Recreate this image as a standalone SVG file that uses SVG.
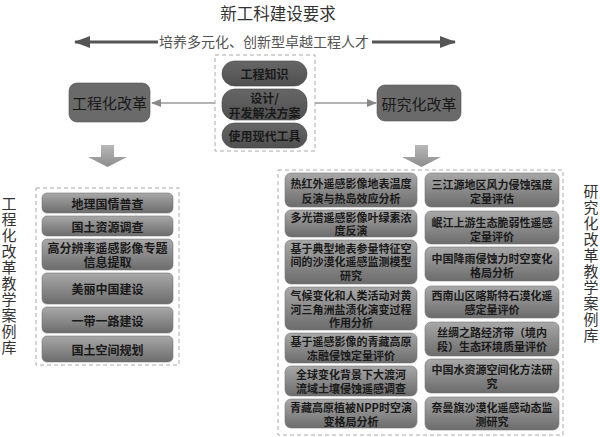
<svg xmlns="http://www.w3.org/2000/svg" width="600" height="437" viewBox="0 0 600 437">
<defs>
<linearGradient id="gItem" x1="0" y1="0" x2="0" y2="1">
<stop offset="0" stop-color="#a8a8a8"/>
<stop offset="0.5" stop-color="#8a8a8a"/>
<stop offset="1" stop-color="#6c6c6c"/>
</linearGradient>
<linearGradient id="gPill" x1="0" y1="0" x2="0" y2="1">
<stop offset="0" stop-color="#666"/>
<stop offset="1" stop-color="#505050"/>
</linearGradient>
<linearGradient id="gDown" x1="0" y1="0" x2="0" y2="1">
<stop offset="0" stop-color="#b8b8b8"/>
<stop offset="1" stop-color="#8c8c8c"/>
</linearGradient>
<marker id="mBig2" markerWidth="16" markerHeight="12" refX="15" refY="6" orient="auto" markerUnits="userSpaceOnUse">
<path d="M0,0 L16,6 L0,12 Z" fill="#555"/>
</marker>
<marker id="mSmall" markerWidth="10" markerHeight="8" refX="9" refY="4" orient="auto" markerUnits="userSpaceOnUse">
<path d="M0,0 L10,4 L0,8 Z" fill="#888"/>
</marker>
</defs>
<style>
text { font-family: "Noto Sans CJK SC", "Liberation Serif", sans-serif; }
.title { font-size: 16.5px; fill: #333; }
.sub { font-size: 14px; fill: #555; }
.vert { font-size: 15px; fill: #333; writing-mode: vertical-rl; letter-spacing: 1px; }
.dash { fill: none; stroke: #aaa; stroke-width: 1; stroke-dasharray: 4 3; }
.item { fill: url(#gItem); stroke: #777; stroke-width: 0.6; }
.pill { fill: url(#gPill); stroke: #444; stroke-width: 0.6; }
.main { fill: #6a6a6a; stroke: #555; stroke-width: 0.6; }
.t { fill: #1a1a1a; font-weight: bold; text-anchor: middle; dominant-baseline: central; }
.tl { font-size: 12px; }
.tr { font-size: 11px; }
.tp { font-size: 12px; }
.tm { font-size: 15px; font-weight: normal; }
.down { fill: url(#gDown); }
</style>

<g id="title">
<text class="title" x="278" y="20" text-anchor="middle">新工科建设要求</text>
</g>

<g id="connectors">
<line x1="158" y1="42" x2="75" y2="42" stroke="#555" stroke-width="3" marker-end="url(#mBig2)"/>
<line x1="372" y1="42" x2="455" y2="42" stroke="#555" stroke-width="3" marker-end="url(#mBig2)"/>
<line x1="215" y1="103" x2="152" y2="103" stroke="#999" stroke-width="1.5" marker-end="url(#mSmall)"/>
<line x1="315" y1="103" x2="376" y2="103" stroke="#999" stroke-width="1.5" marker-end="url(#mSmall)"/>
<path class="down" d="M101,145 H114 V157 H127 L107.5,167 L88,157 H101 Z"/>
<path class="down" d="M415,145 H428 V157 H441 L421.5,167 L402,157 H415 Z"/>
</g>

<g id="goal">
<text class="sub" x="264" y="47" text-anchor="middle">培养多元化、创新型卓越工程人才</text>
</g>

<g id="core">
<rect class="dash" x="215" y="55" width="100" height="96"/>
<rect class="pill" x="222" y="61" width="85" height="25" rx="12.5"/>
<text class="t tp" x="264.5" y="73.5">工程知识</text>
<rect class="pill" x="222" y="89" width="85" height="31" rx="13"/>
<text class="t tp"><tspan x="264.5" y="97">设计/</tspan><tspan x="264.5" y="112">开发解决方案</tspan></text>
<rect class="pill" x="222" y="123" width="85" height="25" rx="12.5"/>
<text class="t tp" x="264.5" y="135.5">使用现代工具</text>
</g>

<g id="eng-reform">
<rect class="main" x="69" y="83" width="81" height="39" rx="8"/>
<text class="t tm" x="109.5" y="102.5">工程化改革</text>
</g>

<g id="res-reform">
<rect class="main" x="377" y="85" width="84" height="36" rx="8"/>
<text class="t tm" x="419" y="103">研究化改革</text>
</g>

<g id="eng-cases">
<rect class="dash" x="36" y="188" width="143" height="177"/>
<rect class="item" x="42" y="193" width="131" height="20" rx="5"/>
<text class="t tl" x="107.5" y="203">地理国情普查</text>
<rect class="item" x="42" y="216" width="131" height="20" rx="5"/>
<text class="t tl" x="107.5" y="226">国土资源调查</text>
<rect class="item" x="42" y="239" width="131" height="31" rx="5"/>
<text class="t tl"><tspan x="107.5" y="247">高分辨率遥感影像专题</tspan><tspan x="107.5" y="261">信息提取</tspan></text>
<rect class="item" x="42" y="273" width="131" height="31" rx="5"/>
<text class="t tl" x="107.5" y="288.5">美丽中国建设</text>
<rect class="item" x="42" y="307" width="131" height="26" rx="5"/>
<text class="t tl" x="107.5" y="320">一带一路建设</text>
<rect class="item" x="42" y="336" width="131" height="26" rx="5"/>
<text class="t tl" x="107.5" y="349">国土空间规划</text>
</g>

<g id="eng-label">
<text class="vert" x="9" y="196" text-anchor="start">工程化改革教学案例库</text>
</g>

<g id="res-cases">
<rect class="dash" x="278" y="170" width="285" height="265"/>
<rect class="item" x="285" y="173" width="132" height="34" rx="6"/>
<text class="t tr"><tspan x="351" y="183">热红外遥感影像地表温度</tspan><tspan x="351" y="198">反演与热岛效应分析</tspan></text>
<rect class="item" x="285" y="210" width="132" height="27" rx="6"/>
<text class="t tr"><tspan x="351" y="217">多光谱遥感影像叶绿素浓</tspan><tspan x="351" y="230">度反演</tspan></text>
<rect class="item" x="285" y="240" width="132" height="44" rx="6"/>
<text class="t tr"><tspan x="351" y="247.5">基于典型地表参量特征空</tspan><tspan x="351" y="261">间的沙漠化遥感监测模型</tspan><tspan x="351" y="274.5">研究</tspan></text>
<rect class="item" x="285" y="287" width="132" height="43" rx="6"/>
<text class="t tr"><tspan x="351" y="294.5">气候变化和人类活动对黄</tspan><tspan x="351" y="308.5">河三角洲盐渍化演变过程</tspan><tspan x="351" y="322">作用分析</tspan></text>
<rect class="item" x="285" y="333" width="132" height="30" rx="6"/>
<text class="t tr"><tspan x="351" y="341">基于遥感影像的青藏高原</tspan><tspan x="351" y="355">冻融侵蚀定量评价</tspan></text>
<rect class="item" x="285" y="366" width="132" height="30" rx="6"/>
<text class="t tr"><tspan x="351" y="373.5">全球变化背景下大渡河</tspan><tspan x="351" y="388">流域土壤侵蚀遥感调查</tspan></text>
<rect class="item" x="285" y="399" width="132" height="29" rx="6"/>
<text class="t tr"><tspan x="351" y="406.5">青藏高原植被NPP时空演</tspan><tspan x="351" y="420.5">变格局分析</tspan></text>

<rect class="item" x="425" y="173" width="134" height="34" rx="6"/>
<text class="t tr"><tspan x="492" y="184">三江源地区风力侵蚀强度</tspan><tspan x="492" y="198">定量评估</tspan></text>
<rect class="item" x="425" y="211" width="134" height="33" rx="6"/>
<text class="t tr"><tspan x="492" y="222">岷江上游生态脆弱性遥感</tspan><tspan x="492" y="236">定量评价</tspan></text>
<rect class="item" x="425" y="247" width="134" height="34" rx="6"/>
<text class="t tr"><tspan x="492" y="257.5">中国降雨侵蚀力时空变化</tspan><tspan x="492" y="271.5">格局分析</tspan></text>
<rect class="item" x="425" y="286" width="134" height="32" rx="6"/>
<text class="t tr"><tspan x="492" y="294.5">西南山区喀斯特石漠化遥</tspan><tspan x="492" y="308.5">感定量评价</tspan></text>
<rect class="item" x="425" y="322" width="134" height="34" rx="6"/>
<text class="t tr"><tspan x="492" y="332">丝绸之路经济带（境内</tspan><tspan x="492" y="346">段）生态环境质量评价</tspan></text>
<rect class="item" x="425" y="359" width="134" height="34" rx="6"/>
<text class="t tr"><tspan x="492" y="369">中国水资源空间化方法研</tspan><tspan x="492" y="383">究</tspan></text>
<rect class="item" x="425" y="397" width="134" height="33" rx="6"/>
<text class="t tr"><tspan x="492" y="406.5">奈曼旗沙漠化遥感动态监</tspan><tspan x="492" y="420.5">测研究</tspan></text>
</g>

<g id="res-label">
<text class="vert" x="591" y="184" text-anchor="start">研究化改革教学案例库</text>
</g>
</svg>
